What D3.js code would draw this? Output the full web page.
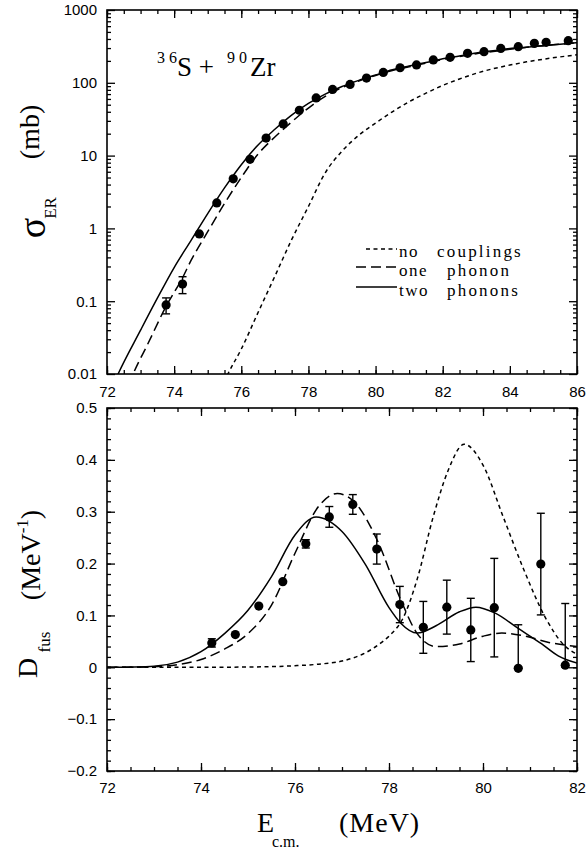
<!DOCTYPE html>
<html>
<head>
<meta charset="utf-8">
<script src="https://cdn.jsdelivr.net/npm/d3@7"></script>
<style>
  body { margin: 0; background: #fff; }
  svg { display: block; }
  .tick text { font-family: "Liberation Sans", Arial, sans-serif; font-size: 15px; fill: #000; }
  .lab { font-family: "Liberation Serif", "Times New Roman", serif; fill: #000; }
</style>
</head>
<body>
<svg id="chart" width="587" height="852"></svg>
<script>
// ---- top panel: evaporation residue cross section (mb)
const erE = [73.76, 74.25, 74.75, 75.27, 75.76, 76.26, 76.74, 77.25, 77.73, 78.23, 78.72, 79.24, 79.73, 80.23, 80.73, 81.22, 81.72, 82.22, 82.74, 83.23, 83.73, 84.25, 84.73, 85.08, 85.74];
const erSig = [0.089, 0.172, 0.84, 2.24, 4.8, 8.9, 17.4, 27.2, 42, 62, 81, 95, 116, 139, 161, 176, 206, 224, 254, 268, 297, 313, 348, 360, 379];
const erErr = [0.022, 0.045, 0, 0, 0, 0, 0, 0, 0, 0, 0, 0, 0, 0, 0, 0, 0, 0, 0, 0, 0, 0, 0, 0, 0];

const noCoupE = [75.3, 75.6, 76.0, 76.5, 77.0, 77.5, 78.0, 78.5, 79.0, 79.5, 80.0, 80.5, 81.0, 81.5, 82.0, 82.5, 83.0, 83.5, 84.0, 84.5, 85.0, 85.5, 86.0];
const noCoupSig = [0.005, 0.01, 0.022, 0.07, 0.22, 0.7, 2.0, 5.8, 11.5, 19, 28, 40, 55, 72, 92, 113, 135, 156, 175, 194, 211, 227, 242];
const onePhE = [72.5, 72.78, 73.2, 73.76, 74.25, 74.5, 75.0, 75.5, 76.0, 76.5, 77.0, 77.5, 78.0, 78.5, 79.0, 79.5, 80.0, 80.5, 81.0, 81.5, 82.0, 82.5, 83.0, 83.5, 84.0, 84.5, 85.0, 85.5, 86.0];
const onePhSig = [0.0045, 0.01, 0.025, 0.085, 0.21, 0.36, 0.9, 2.2, 5.0, 10.5, 18, 29, 45, 65, 86, 106, 126, 148, 166, 186, 209, 229, 251, 269, 288, 309, 324, 339, 355];
const twoPhE = [72.0, 72.33, 73.0, 73.5, 74.0, 74.5, 75.0, 75.5, 76.0, 76.5, 77.0, 77.5, 78.0, 78.5, 79.0, 79.5, 80.0, 80.5, 81.0, 81.5, 82.0, 82.5, 83.0, 83.5, 84.0, 84.5, 85.0, 85.5, 86.0];
const twoPhSig = [0.0045, 0.01, 0.04, 0.11, 0.29, 0.68, 1.6, 3.6, 7.5, 14, 23, 36, 52, 70, 89, 108, 128, 151, 170, 190, 214, 234, 257, 275, 295, 309, 324, 339, 355];

// ---- bottom panel: barrier distribution (MeV^-1)
const dE = [74.23, 74.73, 75.23, 75.74, 76.23, 76.73, 77.23, 77.74, 78.23, 78.73, 79.23, 79.74, 80.24, 80.75, 81.23, 81.75];
const dVal = [0.047, 0.063, 0.118, 0.165, 0.238, 0.290, 0.314, 0.228, 0.121, 0.077, 0.116, 0.072, 0.115, -0.002, 0.199, 0.004];
const dErr = [0.008, 0.004, 0.004, 0.004, 0.008, 0.02, 0.019, 0.029, 0.035, 0.05, 0.052, 0.061, 0.095, 0.084, 0.098, 0.119];

const dNoE = [72.0, 74.0, 75.0, 76.0, 76.5, 77.0, 77.5, 77.8, 78.0, 78.3, 78.6, 78.94, 79.26, 79.6, 80.0, 80.43, 80.86, 81.35, 81.7, 82.0];
const dNoV = [0, 0, 0.0005, 0.003, 0.006, 0.012, 0.028, 0.045, 0.06, 0.095, 0.17, 0.29, 0.38, 0.43, 0.39, 0.29, 0.19, 0.092, 0.045, 0.025];
const dOneE = [72.0, 72.5, 73.0, 73.5, 74.0, 74.5, 75.0, 75.5, 76.0, 76.5, 76.9, 77.25, 77.75, 78.25, 78.6, 79.0, 79.5, 80.0, 80.4, 80.9, 81.4, 82.0];
const dOneV = [0, 0, 0.001, 0.005, 0.015, 0.035, 0.065, 0.12, 0.22, 0.31, 0.335, 0.32, 0.245, 0.13, 0.065, 0.04, 0.045, 0.06, 0.066, 0.06, 0.048, 0.04];
const dTwoE = [72.0, 72.5, 73.0, 73.5, 74.0, 74.5, 75.0, 75.5, 76.0, 76.45, 77.0, 77.5, 78.0, 78.25, 78.6, 79.0, 79.5, 79.85, 80.25, 80.75, 81.25, 81.6, 82.0];
const dTwoV = [0, 0.0005, 0.002, 0.01, 0.03, 0.065, 0.11, 0.175, 0.255, 0.29, 0.262, 0.198, 0.115, 0.085, 0.066, 0.08, 0.107, 0.116, 0.105, 0.075, 0.045, 0.022, 0.008];

const topXTicks = [72, 74, 76, 78, 80, 82, 84, 86];
const topYTicks = [0.01, 0.1, 1, 10, 100, 1000];
const botXTicks = [72, 74, 76, 78, 80, 82];
const botYTicks = [-0.2, -0.1, 0, 0.1, 0.2, 0.3, 0.4, 0.5];

const legendItems = ["no", "one", "two"];
const legendWords = ["couplings", "phonon", "phonons"];

const svg = d3.select("#chart");
const L = 107, R = 577;
const topPanel = {y0: 10, y1: 374};
const botPanel = {y0: 408, y1: 771};

const xTop = d3.scaleLinear([72, 86], [L, R]);
const yTop = d3.scaleLog([0.01, 1000], [topPanel.y1, topPanel.y0]);
const xBot = d3.scaleLinear([72, 82], [L, R]);
const yBot = d3.scaleLinear([-0.2, 0.5], [botPanel.y1, botPanel.y0]);

const dashNo = "4,3.5", dashOne = "10,5";

function frame(p, x, y, xt, xminor, yt, yminor, yfmt, xpad) {
  const g = svg.append("g");
  // minor ticks
  g.append("g").attr("transform", `translate(0,${p.y1})`)
    .call(d3.axisBottom(x).tickValues(xminor).tickSize(-4).tickFormat(""));
  g.append("g").attr("transform", `translate(0,${p.y0})`)
    .call(d3.axisTop(x).tickValues(xminor).tickSize(-4).tickFormat(""));
  g.append("g").attr("transform", `translate(${L},0)`)
    .call(d3.axisLeft(y).tickValues(yminor).tickSize(-4).tickFormat(""));
  g.append("g").attr("transform", `translate(${R},0)`)
    .call(d3.axisRight(y).tickValues(yminor).tickSize(-4).tickFormat(""));
  // major ticks + labels
  g.append("g").attr("transform", `translate(0,${p.y1})`)
    .call(d3.axisBottom(x).tickValues(xt).tickSize(-8).tickPadding(xpad).tickFormat(d3.format("d")));
  g.append("g").attr("transform", `translate(0,${p.y0})`)
    .call(d3.axisTop(x).tickValues(xt).tickSize(-8).tickFormat(""));
  g.append("g").attr("transform", `translate(${L},0)`)
    .call(d3.axisLeft(y).tickValues(yt).tickSize(-8).tickPadding(10).tickFormat(yfmt));
  g.append("g").attr("transform", `translate(${R},0)`)
    .call(d3.axisRight(y).tickValues(yt).tickSize(-8).tickFormat(""));
  g.selectAll(".domain").remove();
  g.selectAll(".tick line").attr("stroke", "#000").attr("stroke-width", 1.3);
  g.append("rect").attr("x", L).attr("y", p.y0).attr("width", R - L).attr("height", p.y1 - p.y0)
    .attr("fill", "none").attr("stroke", "#000").attr("stroke-width", 1.6);
}

// minor tick positions
const topXMinor = d3.range(72, 86.01, 0.5);
const topYMinor = [];
[0.01, 0.1, 1, 10, 100].forEach(d => { for (let k = 2; k <= 9; k++) topYMinor.push(d * k); });
const botXMinor = d3.range(72, 82.01, 0.5);
const botYMinor = d3.range(-0.2, 0.501, 0.02);

frame(topPanel, xTop, yTop, topXTicks, topXMinor, topYTicks, topYMinor, d => String(d), 12);
frame(botPanel, xBot, yBot, botXTicks, botXMinor, botYTicks, botYMinor, d => (d === 0 ? "0" : d3.format(".1f")(d)), 11);

// clip paths
const defs = svg.append("defs");
defs.append("clipPath").attr("id", "clipTop").append("rect")
  .attr("x", L).attr("y", topPanel.y0).attr("width", R - L).attr("height", topPanel.y1 - topPanel.y0);
defs.append("clipPath").attr("id", "clipBot").append("rect")
  .attr("x", L).attr("y", botPanel.y0).attr("width", R - L).attr("height", botPanel.y1 - botPanel.y0);

function curve(g, xs, ys, x, y, dash) {
  const line = d3.line().x(d => x(d[0])).y(d => y(d[1])).curve(d3.curveMonotoneX);
  g.append("path").datum(d3.zip(xs, ys)).attr("d", line)
    .attr("fill", "none").attr("stroke", "#000").attr("stroke-width", 1.5)
    .attr("stroke-dasharray", dash);
}

function points(g, xs, ys, es, x, y) {
  const pts = d3.zip(xs, ys, es);
  const eb = g.append("g").attr("stroke", "#000").attr("stroke-width", 1.4);
  pts.filter(d => d[2] > 0.006).forEach(d => {
    const cx = x(d[0]), ya = y(d[1] + d[2]), yb = y(Math.max(d[1] - d[2], 1e-4));
    eb.append("line").attr("x1", cx).attr("x2", cx).attr("y1", ya).attr("y2", yb);
    eb.append("line").attr("x1", cx - 4).attr("x2", cx + 4).attr("y1", ya).attr("y2", ya);
    eb.append("line").attr("x1", cx - 4).attr("x2", cx + 4).attr("y1", yb).attr("y2", yb);
  });
  g.selectAll("circle.pt").data(pts).join("circle").attr("class", "pt")
    .attr("cx", d => x(d[0])).attr("cy", d => y(d[1])).attr("r", 4.6).attr("fill", "#000");
}

const gTop = svg.append("g").attr("clip-path", "url(#clipTop)");
curve(gTop, noCoupE, noCoupSig, xTop, yTop, dashNo);
curve(gTop, onePhE, onePhSig, xTop, yTop, dashOne);
curve(gTop, twoPhE, twoPhSig, xTop, yTop, null);
points(gTop, erE, erSig, erErr, xTop, yTop);

const gBot = svg.append("g").attr("clip-path", "url(#clipBot)");
curve(gBot, dNoE, dNoV, xBot, yBot, dashNo);
curve(gBot, dOneE, dOneV, xBot, yBot, dashOne);
curve(gBot, dTwoE, dTwoV, xBot, yBot, null);
points(gBot, dE, dVal, dErr, xBot, yBot);

// legend
const legDash = [dashNo, dashOne, null];
const legX0 = [366, 356, 356];
const legY = [249, 267, 287];
const legBase = [257, 276, 296];
legendItems.forEach((t, i) => {
  svg.append("line").attr("x1", legX0[i]).attr("x2", 397).attr("y1", legY[i]).attr("y2", legY[i])
    .attr("stroke", "#000").attr("stroke-width", 1.5).attr("stroke-dasharray", legDash[i]);
  svg.append("text").attr("class", "lab").attr("x", 399).attr("y", legBase[i])
    .attr("font-size", 17).attr("letter-spacing", 1.5).text(t);
  svg.append("text").attr("class", "lab").attr("x", i === 0 ? 437 : 447).attr("y", legBase[i])
    .attr("font-size", 17).attr("letter-spacing", 2.2).text(legendWords[i]);
});

// reaction label 36S + 90Zr
svg.append("text").attr("class", "lab").attr("x", 157).attr("y", 63).attr("font-size", 16).text("3 6");
svg.append("text").attr("class", "lab").attr("x", 177).attr("y", 76).attr("font-size", 27).text("S +");
svg.append("text").attr("class", "lab").attr("x", 227).attr("y", 63).attr("font-size", 16).text("9 0");
svg.append("text").attr("class", "lab").attr("x", 250).attr("y", 76).attr("font-size", 27).text("Zr");

// y labels
svg.append("text").attr("class", "lab").attr("transform", "translate(45,228) rotate(-90)")
  .attr("text-anchor", "middle").attr("font-size", 38).text("σ");
svg.append("text").attr("class", "lab").attr("transform", "translate(56,208) rotate(-90)")
  .attr("text-anchor", "middle").attr("font-size", 17).text("ER");
svg.append("text").attr("class", "lab").attr("transform", "translate(39,132) rotate(-90)")
  .attr("text-anchor", "middle").attr("font-size", 28).text("(mb)");

svg.append("text").attr("class", "lab").attr("transform", "translate(37,668) rotate(-90)")
  .attr("text-anchor", "middle").attr("font-size", 28).text("D");
svg.append("text").attr("class", "lab").attr("transform", "translate(50,642) rotate(-90)")
  .attr("text-anchor", "middle").attr("font-size", 17).text("fus");
const mev = svg.append("text").attr("class", "lab").attr("transform", "translate(40,555) rotate(-90)")
  .attr("text-anchor", "middle").attr("font-size", 28);
mev.append("tspan").text("(MeV");
mev.append("tspan").attr("font-size", 17).attr("dy", -12).text("-1");
mev.append("tspan").attr("dy", 12).text(")");

// x label
svg.append("text").attr("class", "lab").attr("x", 257).attr("y", 832).attr("font-size", 28).text("E");
svg.append("text").attr("class", "lab").attr("x", 272).attr("y", 847).attr("font-size", 16).text("c.m.");
svg.append("text").attr("class", "lab").attr("x", 339).attr("y", 832).attr("font-size", 28).attr("letter-spacing", 1).text("(MeV)");
</script>
</body>
</html>
